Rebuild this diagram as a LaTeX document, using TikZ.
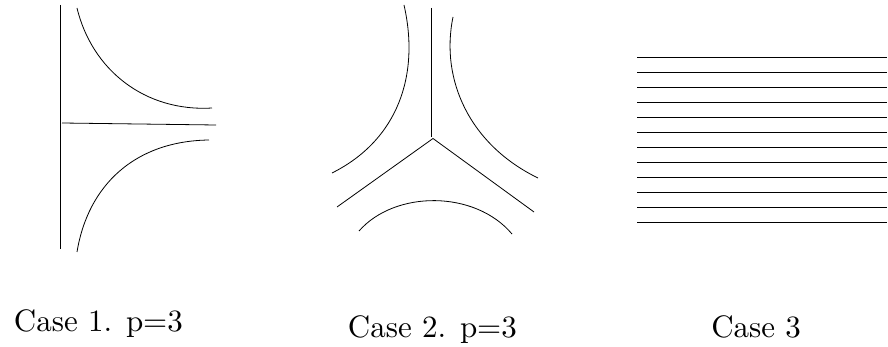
\documentclass[tikz,border=0pt]{standalone}
\begin{document}
\begin{tikzpicture}[x=1pt,y=-1pt,line width=0.8pt,
  curve/.style={draw=black},
  lab/.style={anchor=base west,inner sep=0pt,scale=3.1,font=\fontsize{10}{12}\selectfont}]
\useasboundingbox (0,0) rectangle (888,347);
% Case 1
\coordinate (v1a) at (60,5);
\coordinate (v1b) at (60,249);
\draw[curve] (v1a) -- (v1b);
\coordinate (h1a) at (62,123);
\coordinate (h1b) at (216,125);
\draw[curve] (h1a) -- (h1b);
\coordinate (t1a) at (77,8);
\coordinate (t1b) at (212,108);
\draw[curve] (t1a) .. controls (92,70) and (145,112) .. (t1b);
\coordinate (b1a) at (77,252);
\coordinate (b1b) at (209,140);
\draw[curve] (b1a) .. controls (88,185) and (135,141) .. (b1b);
% Case 2
\coordinate (v2a) at (431,8);
\coordinate (v2b) at (431,137);
\draw[curve] (v2a) -- (v2b);
\coordinate (j) at (433,138.5);
\coordinate (l2) at (337,207);
\coordinate (r2) at (534,212);
\draw[curve] (l2) -- (j) -- (r2);
\coordinate (la) at (404,5);
\coordinate (lb) at (332,173);
\draw[curve] (la) .. controls (420,75) and (398,140) .. (lb);
\coordinate (ra) at (453,17);
\coordinate (rb) at (538,178);
\draw[curve] (ra) .. controls (440,80) and (470,145) .. (rb);
\coordinate (ba) at (359,231);
\coordinate (bb) at (512,234);
\draw[curve] (ba) .. controls (395,190) and (475,190) .. (bb);
% Case 3
\foreach \k in {0,...,11}{
  \coordinate (s\k) at (637,57.7+15*\k);
  \coordinate (e\k) at (887,57.7+15*\k);
  \draw[curve] (s\k) -- (e\k);
}
\coordinate (ta) at (773,57.7);
\coordinate (tb) at (850,57.7);
\draw[curve,line width=1.3pt] (ta) -- (tb);
% labels
\node[lab] (c1) at (12.7,331) {Case 1. p=3};
\node[lab] (c2) at (346.7,337) {Case 2. p=3};
\node[lab] (c3) at (710,337) {Case 3};
\end{tikzpicture}
\end{document}
